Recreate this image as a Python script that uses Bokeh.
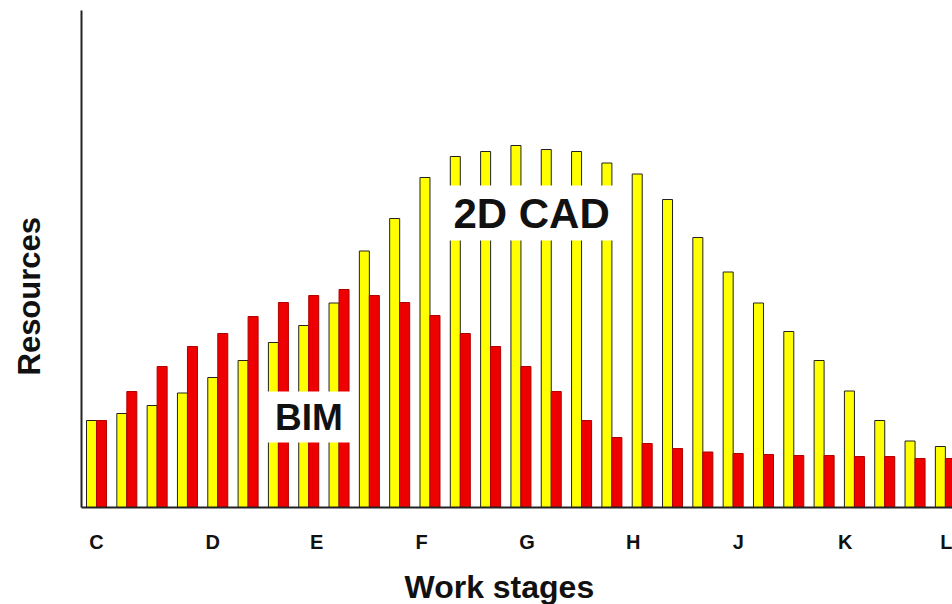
from bokeh.plotting import figure
from bokeh.models import Label, FixedTicker, Range1d, ColumnDataSource, Title
from bokeh.transform import dodge
from bokeh.embed import file_html
from bokeh.resources import INLINE

# ---- data ----
pairs = list(range(29))
cad_2d = [8.7, 9.4, 10.2, 11.45, 13.0, 14.7, 16.5, 18.2, 20.45, 25.65,
          28.9, 33.0, 35.1, 35.6, 36.2, 35.8, 35.6, 34.45, 33.35, 30.8,
          27.0, 23.55, 20.45, 17.6, 14.7, 11.65, 8.7, 6.65, 6.1]
bim = [8.7, 11.6, 14.1, 16.1, 17.4, 19.1, 20.5, 21.2, 21.8, 21.2,
       20.5, 19.2, 17.4, 16.1, 14.1, 11.6, 8.7, 7.0, 6.4, 5.9,
       5.55, 5.4, 5.3, 5.2, 5.2, 5.1, 5.1, 4.9, 4.9]
stage_labels = ["C", "D", "E", "F", "G", "H", "J", "K", "L"]
stage_pos = [0.0, 3.83, 7.26, 10.72, 14.2, 17.7, 21.17, 24.7, 28.07]

FONT = "Liberation Sans"

src = ColumnDataSource(dict(pair=pairs, cad=cad_2d, bim=bim))

p = figure(width=952, height=604, output_backend="svg", toolbar_location=None,
           x_range=Range1d(-0.495, 28.235), y_range=Range1d(0, 49.7))
p.min_border_left = 81
p.min_border_right = 0
p.min_border_top = 10
p.min_border_bottom = 97
p.outline_line_color = None
p.xgrid.visible = False
p.ygrid.visible = False
p.background_fill_color = "white"
p.border_fill_color = "white"

p.vbar(x=dodge("pair", -0.165, range=p.x_range), top="cad", width=0.33, bottom=0,
       source=src, fill_color="#ffff00", line_color="#222222", line_width=1)
p.vbar(x=dodge("pair", 0.165, range=p.x_range), top="bim", width=0.33, bottom=0,
       source=src, fill_color="#ee0000", line_color="#b00000", line_width=1)

# x axis
xa = p.xaxis[0]
xa.ticker = FixedTicker(ticks=stage_pos)
xa.major_label_overrides = {pos: lab for pos, lab in zip(stage_pos, stage_labels)}
xa.major_tick_line_color = None
xa.minor_tick_line_color = None
xa.major_tick_out = 0
xa.major_tick_in = 0
xa.major_label_standoff = 23
xa.major_label_text_font = FONT
xa.major_label_text_font_size = "20px"
xa.major_label_text_font_style = "bold"
xa.major_label_text_color = "#111111"
xa.axis_line_color = "#222222"
xa.axis_line_width = 2

# y axis
ya = p.yaxis[0]
ya.ticker = FixedTicker(ticks=[])
ya.major_tick_line_color = None
ya.minor_tick_line_color = None
ya.major_tick_out = 0
ya.major_tick_in = 0
ya.major_label_text_font_size = "0px"
ya.axis_line_color = "#222222"
ya.axis_line_width = 2

# blank spacer titles (reserve room between axis and the axis titles)
p.add_layout(Title(text=" ", text_font=FONT, text_font_size="8px",
                   standoff=0), "below")
p.add_layout(Title(text=" ", text_font=FONT, text_font_size="30px",
                   standoff=0), "left")

# axis titles as side-panel titles (off-centre, as in the reference)
p.add_layout(Title(text="Work stages", text_font=FONT, text_font_size="32px",
                   text_font_style="bold", text_color="#111111",
                   align="left", offset=323, standoff=0), "below")
p.add_layout(Title(text="Resources", text_font=FONT, text_font_size="31px",
                   text_font_style="bold", text_color="#111111",
                   align="left", offset=132, standoff=0), "left")

# in-chart labels
p.add_layout(Label(x=14.35, y=29.45, text="2D CAD", text_font=FONT,
                   text_font_size="42px", text_font_style="bold",
                   text_align="center", text_baseline="middle",
                   text_color="#111111",
                   background_fill_color="white", background_fill_alpha=1.0,
                   padding=(14, 4)))
p.add_layout(Label(x=7.01, y=9.05, text="BIM", text_font=FONT,
                   text_font_size="37px", text_font_style="bold",
                   text_align="center", text_baseline="middle",
                   text_color="#111111",
                   background_fill_color="white", background_fill_alpha=1.0,
                   padding=(12, 5)))

open("out.html", "w").write(file_html(p, INLINE))
